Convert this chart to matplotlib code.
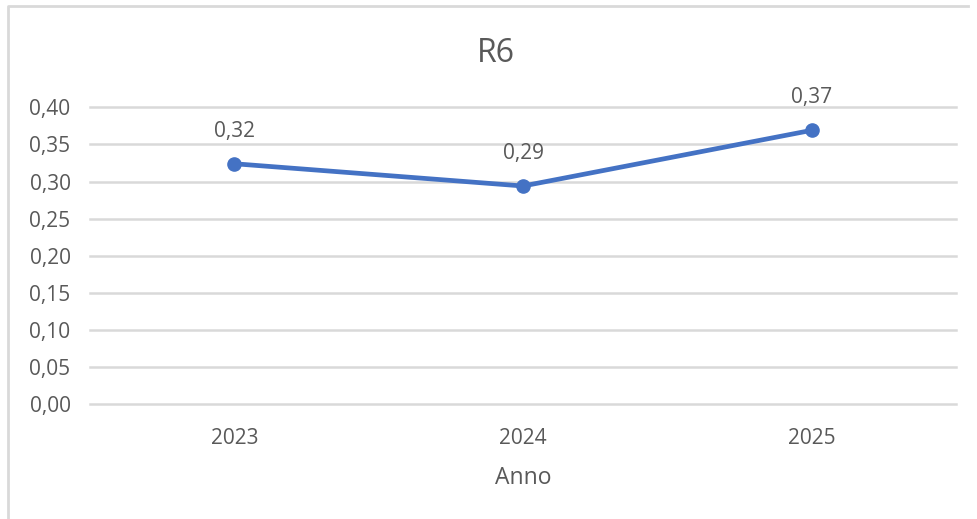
import numpy as np
import matplotlib
matplotlib.use("Agg")
from matplotlib import pyplot as plt
from matplotlib.lines import Line2D

# Data
years = ["2023", "2024", "2025"]
r6_values = [0.324, 0.294, 0.369]
y_ticks = [0.00, 0.05, 0.10, 0.15, 0.20, 0.25, 0.30, 0.35, 0.40]

plt.rcParams['font.family'] = ['Open Sans', 'DejaVu Sans']

text_grey = "#595959"
grid_grey = "#d9d9d9"
line_blue = "#4472c4"

fig = plt.figure(figsize=(9.78, 5.19), dpi=100)
ax = fig.add_axes([90/978, 1 - 404.3/519, (956 - 90)/978, (404.3 - 107.3)/519])

x = np.arange(len(years))
ax.plot(x, r6_values, color=line_blue, lw=3.4, marker='o', ms=9.5,
        solid_capstyle='round', clip_on=False, zorder=3)

for xi, v in zip(x, r6_values):
    ax.annotate(("%.2f" % v).replace('.', ','), (xi, v), xytext=(0, 23.5),
                textcoords='offset points', ha='center', va='center',
                fontsize=15, color=text_grey)

ax.set_xlim(-0.5, len(years) - 0.5)
ax.set_ylim(0, 0.40)
ax.set_xticks(x)
ax.set_xticklabels(years)
ax.set_yticks(y_ticks)
ax.set_yticklabels([("%.2f" % t).replace('.', ',') for t in y_ticks])
ax.tick_params(axis='both', length=0, labelsize=15, labelcolor=text_grey)
ax.tick_params(axis='y', pad=14)
ax.tick_params(axis='x', pad=17)

ax.grid(axis='y', color=grid_grey, lw=1.8)
for gl in ax.get_ygridlines():
    gl.set_clip_on(False)
ax.set_axisbelow(True)
for s in ax.spines.values():
    s.set_visible(False)

ax.set_xlabel("Anno", fontsize=16.5, color=text_grey, labelpad=12)
fig.text(496/978, 1 - 53/519, "R6", ha='center', va='center',
         fontsize=23, color=text_grey)

# chart frame (top and left edges visible)
fig.add_artist(Line2D([8/978, 8/978, 968/978], [0, 1 - 6/519, 1 - 6/519],
                      transform=fig.transFigure, color=grid_grey, lw=2))

fig.savefig("out.png", dpi=100)
